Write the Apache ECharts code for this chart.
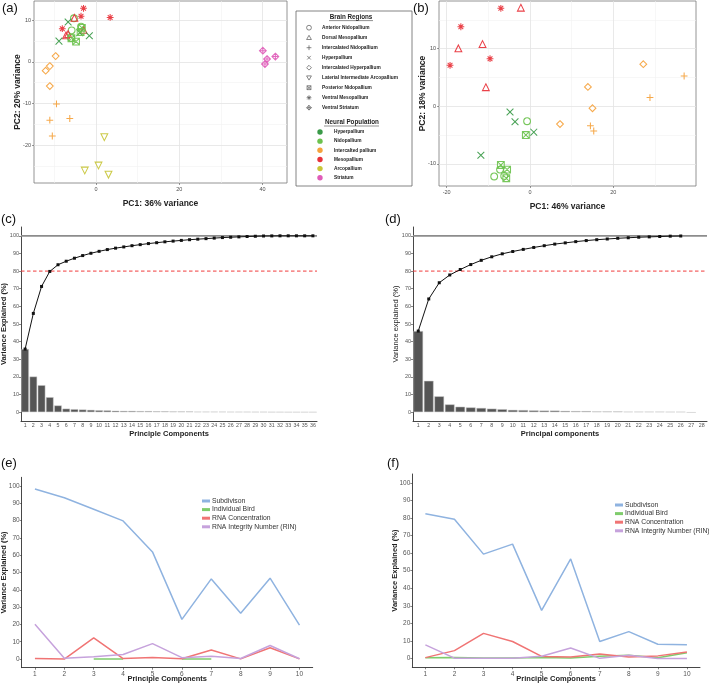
<!DOCTYPE html>
<html><head><meta charset="utf-8">
<script src="https://cdn.jsdelivr.net/npm/echarts@6/dist/echarts.min.js"></script>
<style>html,body{margin:0;padding:0;background:#fff}#c{width:709px;height:684px}</style>
</head><body><div id="c"></div>
<script>
// ================= DATA =================
const regionNames = ['Anterior Nidopallium','Dorsal Mesopallium','Intercalated Nidopallium','Hyperpallium','Intercalated Hyperpallium','Laterial Intermediate Arcopallium','Posterior Nidopallium','Ventral Mesopallium','Ventral Striatum'];
const populationNames = ['Hyperpallium','Nidopallium','Intercalted pallium','Mesopallium','Arcopallium','Striatum'];
const populationColors = ['#3a9a48','#6cc24e','#f5a23c','#e8323a','#c8c638','#e05cb8'];
const regionPopulation = [1,3,2,0,2,4,1,3,5];

// panel (a): PC1 vs PC2 (36% / 20%)
const aAnteriorNidopallium = [[-5.85,7.6],[-5.3,10.5],[-3.6,8.5],[-6.0,5.8]];
const aDorsalMesopallium = [[-5.2,10.6],[-3.0,7.7],[-7.2,6.4],[-6.7,6.7]];
const aIntercalatedNidopallium = [[-9.5,-10.1],[-11.1,-14.0],[-6.3,-13.6],[-10.5,-17.8]];
const aHyperpallium = [[-6.7,9.6],[-8.9,5.0],[-1.6,6.3],[-3.9,7.0]];
const aIntercalatedHyperpallium = [[-9.7,1.4],[-12.1,-2.1],[-11.1,-1.0],[-11.1,-5.8]];
const aLateralIntermediateArcopallium = [[2.0,-18.1],[0.6,-24.9],[-2.7,-26.1],[3.0,-27.1]];
const aPosteriorNidopallium = [[-5.9,5.7],[-4.8,4.9],[-3.7,7.2],[-3.4,8.2]];
const aVentralMesopallium = [[-3.0,12.9],[-3.6,11.0],[3.4,10.7],[-8.1,8.0]];
const aVentralStriatum = [[40.1,2.7],[41.1,0.7],[40.6,-0.5],[43.1,1.3]];

// panel (b): PC1 vs PC2 (46% / 18%)
const bAnteriorNidopallium = [[-0.7,-2.6],[-7.2,-11.0],[-8.6,-12.2],[-6.2,-12.1]];
const bDorsalMesopallium = [[-2.2,17.1],[-11.4,10.8],[-17.2,10.05],[-10.6,3.3]];
const bIntercalatedNidopallium = [[37.0,5.25],[28.8,1.5],[14.5,-3.4],[15.3,-4.3]];
const bHyperpallium = [[-4.8,-1.0],[-3.6,-2.7],[0.9,-4.5],[-11.8,-8.5]];
const bIntercalatedHyperpallium = [[27.2,7.3],[13.9,3.35],[15.0,-0.35],[7.2,-3.1]];
const bPosteriorNidopallium = [[-1.0,-5.0],[-7.0,-10.2],[-5.5,-11.0],[-5.7,-12.5]];
const bVentralMesopallium = [[-7.0,17.0],[-16.6,13.8],[-9.6,8.25],[-19.2,7.1]];

// panel (c): scree, 36 components
const cComponents = ['1','2','3','4','5','6','7','8','9','10','11','12','13','14','15','16','17','18','19','20','21','22','23','24','25','26','27','28','29','30','31','32','33','34','35','36'];
const cVariance = [35.8,20.2,15.3,8.5,3.8,2.0,1.7,1.5,1.3,1.1,1.0,0.8,0.7,0.7,0.6,0.6,0.5,0.5,0.4,0.4,0.4,0.3,0.3,0.3,0.3,0.2,0.2,0.2,0.15,0.15,0.05,0.05,0,0,0,0];
const cCumulative = [35.8,56.0,71.3,79.8,83.6,85.6,87.3,88.8,90.1,91.2,92.2,93.0,93.7,94.4,95.0,95.6,96.1,96.6,97.0,97.4,97.8,98.1,98.4,98.7,99.0,99.2,99.4,99.6,99.75,99.9,99.95,100,100,100,100,100];

// panel (d): scree, 28 components
const dComponents = ['1','2','3','4','5','6','7','8','9','10','11','12','13','14','15','16','17','18','19','20','21','22','23','24','25','26','27','28'];
const dVariance = [46.0,17.8,9.0,4.4,3.1,2.7,2.4,2.0,1.7,1.3,1.2,1.0,0.9,0.9,0.7,0.6,0.6,0.4,0.4,0.4,0.3,0.3,0.3,0.3,0.2,0.2,-0.3,null];
const dCumulative = [46.0,64.2,73.4,77.8,80.9,83.7,86.1,88.1,89.8,91.1,92.3,93.4,94.4,95.3,96.0,96.7,97.3,97.8,98.2,98.6,98.9,99.2,99.4,99.6,99.8,99.9];

// reference lines on the scree plots (value, drawn across the full plot width)
const screeTotalLine = 100;
const screeThresholdLine = 80;

// panel (e) and (f): variance explained by factor per PC
const pcs = [1,2,3,4,5,6,7,8,9,10];
const factorNames = ['Subdivison','Individual Bird','RNA Concentration','RNA Integrity Number (RIN)'];
const factorColors = ['#8fb3e0','#7fcc6c','#f07474','#c6a2dc'];
const eSubdivision = [98.2,93.2,86.5,79.8,61.9,22.9,46.3,26.4,46.7,19.6];
const eIndividualBird = [null,null,0,0,null,0,0,null,null,null];
const eRNAConcentration = [0.3,0.0,12.2,0.3,0.9,0.2,5.2,0.1,6.5,0.1];
const eRIN = [20.1,0.5,1.3,2.6,8.9,0.8,1.6,0.3,7.8,0.2];
const fSubdivision = [82.4,79.3,59.4,65.1,27.4,56.7,9.7,15.3,8.1,7.8];
const fIndividualBird = [0.5,0.6,0.3,0.3,0.6,0.3,1.3,1.8,0.4,3.3];
const fRNAConcentration = [0.5,4.5,14.3,9.7,1.2,0.9,2.5,0.8,1.5,3.7];
const fRIN = [7.8,0.2,0.1,0.2,1.3,6.0,0.1,1.8,0.0,0.0];

// axis tick labels
const aXTicks = [0,20,40], aYTicks = [-20,-10,0,10];
const aXMinor = [-10,10,30], aYMinor = [-25,-15,-5,5];
const bXTicks = [-20,0,20], bYTicks = [-10,0,10];
const bXMinor = [-10,10,30], bYMinor = [-5,5,15];
const screeYTicks = [0,10,20,30,40,50,60,70,80,90,100];

// ================= STYLE / BUILD =================
const FF = '"Liberation Sans", Arial, sans-serif';
const symbolPaths = [
  'circle',
  'path://M5 0L10 8.66L0 8.66Z',
  'path://M5 0L5 10M0 5L10 5',
  'path://M0 0L10 10M10 0L0 10',
  'path://M5 0L10 5L5 10L0 5Z',
  'path://M0 0L10 0L5 8.66Z',
  'path://M0 0L10 0L10 10L0 10ZM0 0L10 10M10 0L0 10',
  'path://M5 0L5 10M0 5L10 5M1.5 1.5L8.5 8.5M8.5 1.5L1.5 8.5',
  'path://M5 0L10 5L5 10L0 5ZM5 0L5 10M0 5L10 5'
];
const aSets = [aAnteriorNidopallium,aDorsalMesopallium,aIntercalatedNidopallium,aHyperpallium,aIntercalatedHyperpallium,aLateralIntermediateArcopallium,aPosteriorNidopallium,aVentralMesopallium,aVentralStriatum];
const bSets = [bAnteriorNidopallium,bDorsalMesopallium,bIntercalatedNidopallium,bHyperpallium,bIntercalatedHyperpallium,null,bPosteriorNidopallium,bVentralMesopallium,null];

function markLineSeries(gi, items, color, width, type, z, anchor){
  const ls = {color, width, type, opacity:1};
  return {type:'scatter', xAxisIndex:gi, yAxisIndex:gi, data:[anchor], symbolSize:0, silent:true, z,
    itemStyle:{color},
    markLine:{silent:true, symbol:['none','none'], label:{show:false}, animation:false, z,
      lineStyle:ls, data:items.map(it=>Object.assign({}, it, {lineStyle:ls}))}};
}
function gridLineSeries(gi, xMaj, xMin, yMaj, yMin, anchor){
  const minor = xMin.map(v=>({xAxis:v})).concat(yMin.map(v=>({yAxis:v})));
  const major = xMaj.map(v=>({xAxis:v})).concat(yMaj.map(v=>({yAxis:v})));
  return [markLineSeries(gi, minor, '#f2f2f2', 0.6, 'solid', 1, anchor),
          markLineSeries(gi, major, '#e3e3e3', 0.8, 'solid', 1, anchor)];
}
function scatterSeries(gi, sets){
  const out = [];
  sets.forEach((pts,i)=>{
    if(!pts) return;
    const col = populationColors[regionPopulation[i]];
    out.push({type:'scatter', name:regionNames[i], xAxisIndex:gi, yAxisIndex:gi, data:pts, z:3,
      symbol:symbolPaths[i], symbolSize:6.8,
      itemStyle:{color:'rgba(0,0,0,0)', borderColor:col, borderWidth:1.05, opacity:0.92}});
  });
  return out;
}
const tinyLabel = {fontSize:5.5, color:'#4d4d4d', fontFamily:FF};
function scatterX(gi, min, max, ticks, title){
  return {gridIndex:gi, type:'value', min, max, axisLine:{show:false,onZero:false}, splitLine:{show:false},
    axisTick:{show:true, length:2, customValues:ticks, lineStyle:{color:'#555',width:0.6}},
    axisLabel:{customValues:ticks, margin:3, ...tinyLabel},
    name:title, nameLocation:'middle', nameGap:16, nameMoveOverlap:false, nameTextStyle:{fontWeight:'bold', fontSize:8.5, color:'#222', fontFamily:FF}};
}
function scatterY(gi, min, max, ticks, title){
  return {gridIndex:gi, type:'value', min, max, axisLine:{show:false,onZero:false}, splitLine:{show:false},
    axisTick:{show:true, length:2, customValues:ticks, lineStyle:{color:'#555',width:0.6}},
    axisLabel:{customValues:ticks, margin:3, ...tinyLabel},
    name:title, nameLocation:'middle', nameGap:12, nameMoveOverlap:false, nameTextStyle:{fontWeight:'bold', fontSize:8.5, color:'#222', fontFamily:FF}};
}
function screeX(gi, cats, title){
  return {gridIndex:gi, type:'category', data:cats, boundaryGap:true,
    axisLine:{onZero:false, lineStyle:{color:'#333',width:0.9}},
    axisTick:{alignWithLabel:true, length:2, lineStyle:{color:'#333',width:0.6}},
    axisLabel:{interval:0, margin:2.5, fontSize:5.3, color:'#555', fontFamily:FF},
    name:title, nameLocation:'middle', nameGap:8.5, nameMoveOverlap:false, nameTextStyle:{fontWeight:'bold', fontSize:7.5, color:'#222', fontFamily:FF}};
}
// hidden 0..1 axis spanning the full plot width, used for the horizontal reference lines
function spanX(gi){
  return {gridIndex:gi, type:'value', min:0, max:1, show:false, position:'top', axisLine:{onZero:false}};
}
function percentY(gi, title, bold, fs){
  return {gridIndex:gi, type:'value', min:-5, max:105, splitLine:{show:false},
    axisLine:{show:true, onZero:false, lineStyle:{color:'#333',width:0.9}},
    axisTick:{show:true, length:2, customValues:screeYTicks, lineStyle:{color:'#333',width:0.6}},
    axisLabel:{customValues:screeYTicks, margin:2, fontSize:fs, color:'#555', fontFamily:FF},
    name:title, nameLocation:'middle', nameGap:13.5, nameMoveOverlap:false, nameTextStyle:{fontWeight:bold?'bold':'normal', fontSize:7.5, color:'#222', fontFamily:FF}};
}
function factorX(gi, title){
  return {gridIndex:gi, type:'value', min:0.55, max:10.45, splitLine:{show:false},
    axisLine:{show:true, onZero:false, lineStyle:{color:'#333',width:0.9}},
    axisTick:{show:true, length:2, customValues:pcs, lineStyle:{color:'#333',width:0.6}},
    axisLabel:{customValues:pcs, margin:3, fontSize:6.5, color:'#555', fontFamily:FF},
    name:title, nameLocation:'middle', nameGap:7.5, nameMoveOverlap:false, nameTextStyle:{fontWeight:'bold', fontSize:7.5, color:'#222', fontFamily:FF}};
}
function screeSeries(gi, spanAxis, vals, cum){
  return [
    {type:'bar', xAxisIndex:gi, yAxisIndex:gi, data:vals, barCategoryGap:'8%', z:2,
      itemStyle:{color:'#555555', borderColor:'#cfcfcf', borderWidth:0.5}},
    {type:'line', xAxisIndex:spanAxis, yAxisIndex:gi, data:[[0,screeTotalLine],[1,screeTotalLine]], z:3, silent:true,
      symbol:'none', showSymbol:false, lineStyle:{color:'#8c8c8c', width:1.8, type:'solid'}, itemStyle:{color:'#8c8c8c'}},
    {type:'line', xAxisIndex:spanAxis, yAxisIndex:gi, data:[[0,screeThresholdLine],[1,screeThresholdLine]], z:3, silent:true,
      symbol:'none', showSymbol:false, lineStyle:{color:'#f03c3c', width:1, type:[3.5,2.5]}, itemStyle:{color:'#f03c3c'}},
    {type:'line', xAxisIndex:gi, yAxisIndex:gi, data:cum, z:4, symbol:'rect', symbolSize:3,
      lineStyle:{color:'#111', width:1}, itemStyle:{color:'#111'}}
  ];
}
function factorSeries(gi, arrs){
  return arrs.map((arr,i)=>({type:'line', name:factorNames[i], xAxisIndex:gi, yAxisIndex:gi,
    data:pcs.map((p,k)=>[p, arr[k]]), connectNulls:false, showSymbol:false, symbol:'none', z:3+i,
    lineStyle:{color:factorColors[i], width:1.5}, itemStyle:{color:factorColors[i]}}));
}

// legend (a) graphics
function legendShape(kind, cx, cy, s, col){
  const h=s/2, st={stroke:col, fill:'none', lineWidth:0.7};
  const L=(x1,y1,x2,y2)=>({type:'line', shape:{x1,y1,x2,y2}, style:st});
  const P=(pts)=>({type:'polygon', shape:{points:pts}, style:st});
  switch(kind){
    case 0: return [{type:'circle', shape:{cx,cy,r:h}, style:st}];
    case 1: return [P([[cx,cy-h],[cx+h,cy+h*0.75],[cx-h,cy+h*0.75]])];
    case 2: return [L(cx-h,cy,cx+h,cy), L(cx,cy-h,cx,cy+h)];
    case 3: return [L(cx-h*0.75,cy-h*0.75,cx+h*0.75,cy+h*0.75), L(cx-h*0.75,cy+h*0.75,cx+h*0.75,cy-h*0.75)];
    case 4: return [P([[cx,cy-h],[cx+h,cy],[cx,cy+h],[cx-h,cy]])];
    case 5: return [P([[cx-h,cy-h*0.75],[cx+h,cy-h*0.75],[cx,cy+h]])];
    case 6: return [{type:'rect', shape:{x:cx-h*0.8,y:cy-h*0.8,width:h*1.6,height:h*1.6}, style:st},
                    L(cx-h*0.8,cy-h*0.8,cx+h*0.8,cy+h*0.8), L(cx-h*0.8,cy+h*0.8,cx+h*0.8,cy-h*0.8)];
    case 7: return [L(cx-h,cy,cx+h,cy), L(cx,cy-h,cx,cy+h), L(cx-h*0.7,cy-h*0.7,cx+h*0.7,cy+h*0.7), L(cx-h*0.7,cy+h*0.7,cx+h*0.7,cy-h*0.7)];
    case 8: return [P([[cx,cy-h],[cx+h,cy],[cx,cy+h],[cx-h,cy]]), L(cx-h,cy,cx+h,cy), L(cx,cy-h,cx,cy+h)];
  }
}
const graphics = [];
graphics.push({type:'rect', shape:{x:296,y:11,width:116,height:175}, style:{fill:'#fff', stroke:'#666', lineWidth:0.8}, z:10});
graphics.push({type:'text', x:351, y:17.3, z:11, style:{text:'Brain Regions', fontSize:6.3, fontWeight:'bold', fontFamily:FF, fill:'#222', align:'center', verticalAlign:'middle'}});
graphics.push({type:'line', z:11, shape:{x1:329,y1:20.6,x2:373,y2:20.6}, style:{stroke:'#222', lineWidth:0.5}});
regionNames.forEach((n,i)=>{
  const y = 27.7 + i*10;
  legendShape(i, 309, y, 4.8, '#555').forEach(e=>{e.z=11; graphics.push(e);});
  graphics.push({type:'text', x:322, y, z:11, style:{text:n, fontSize:4.8, fontWeight:'bold', fontFamily:FF, fill:'#222', align:'left', verticalAlign:'middle'}});
});
graphics.push({type:'text', x:352, y:122.7, z:11, style:{text:'Neural Population', fontSize:6.3, fontWeight:'bold', fontFamily:FF, fill:'#222', align:'center', verticalAlign:'middle'}});
graphics.push({type:'line', z:11, shape:{x1:324,y1:126,x2:379,y2:126}, style:{stroke:'#222', lineWidth:0.5}});
populationNames.forEach((n,i)=>{
  const y = 132 + i*9.15;
  graphics.push({type:'circle', z:11, shape:{cx:320, cy:y, r:2.7}, style:{fill:populationColors[i]}});
  graphics.push({type:'text', x:334, y, z:11, style:{text:n, fontSize:4.8, fontWeight:'bold', fontFamily:FF, fill:'#222', align:'left', verticalAlign:'middle'}});
});
[['(a)',2,8],['(b)',413,8],['(c)',1,219],['(d)',385,219],['(e)',1,463],['(f)',387,463]].forEach(([t,x,y])=>{
  graphics.push({type:'text', x, y, z:12, style:{text:t, fontSize:13, fontFamily:FF, fill:'#111', align:'left', verticalAlign:'middle'}});
});

const grids = [
  {left:34, top:1, width:253, height:182, show:true, borderColor:'#7a7a7a', borderWidth:0.8, backgroundColor:'#fff'},
  {left:439, top:1, width:257, height:185, show:true, borderColor:'#7a7a7a', borderWidth:0.8, backgroundColor:'#fff'},
  {left:21, top:227, width:296, height:194},
  {left:413, top:227, width:294, height:194},
  {left:21.7, top:477.3, width:291, height:190.4},
  {left:412.3, top:474, width:287.7, height:193.3}
].map(g=>Object.assign(g,{outerBoundsMode:'none', containLabel:false}));

const option = {
  animation:false,
  backgroundColor:'#fff',
  textStyle:{fontFamily:FF},
  grid: grids,
  xAxis:[
    scatterX(0,-14.9,45.9,aXTicks,'PC1: 36% variance'),
    scatterX(1,-21.85,39.85,bXTicks,'PC1: 46% variance'),
    screeX(2,cComponents,'Principle Components'),
    screeX(3,dComponents,'Principal components'),
    factorX(4,'Principle Components'),
    factorX(5,'Principle Components'),
    spanX(2),
    spanX(3)
  ],
  yAxis:[
    scatterY(0,-29.1,14.65,aYTicks,'PC2: 20% variance'),
    scatterY(1,-13.85,18.27,bYTicks,'PC2: 18% variance'),
    percentY(2,'Variance Explained (%)',true,5.5),
    percentY(3,'Variance explained (%)',false,5.5),
    percentY(4,'Variance Explained (%)',true,6.5),
    percentY(5,'Variance Explained (%)',true,6.5)
  ],
  legend:[
    {left:197, top:492.5, orient:'vertical', icon:'rect', itemWidth:8, itemHeight:3, itemGap:1.6, selectedMode:false,
      textStyle:{fontSize:6.8, color:'#333', fontFamily:FF, padding:[0,0,0,-3]}, data:factorNames},
    {left:610, top:496.5, orient:'vertical', icon:'rect', itemWidth:8, itemHeight:3, itemGap:1.6, selectedMode:false,
      textStyle:{fontSize:6.8, color:'#333', fontFamily:FF, padding:[0,0,0,-3]}, data:factorNames}
  ],
  graphic: graphics,
  series: [
    ...gridLineSeries(0, aXTicks, aXMinor, aYTicks, aYMinor, [0,0]),
    ...scatterSeries(0, aSets),
    ...gridLineSeries(1, bXTicks, bXMinor, bYTicks, bYMinor, [0,0]),
    ...scatterSeries(1, bSets),
    ...screeSeries(2, 6, cVariance, cCumulative),
    ...screeSeries(3, 7, dVariance, dCumulative),
    ...factorSeries(4, [eSubdivision,eIndividualBird,eRNAConcentration,eRIN]),
    ...factorSeries(5, [fSubdivision,fIndividualBird,fRNAConcentration,fRIN])
  ]
};
const chart = echarts.init(document.getElementById('c'), null, {renderer:'canvas'});
chart.setOption(option);
</script>
</body></html>
